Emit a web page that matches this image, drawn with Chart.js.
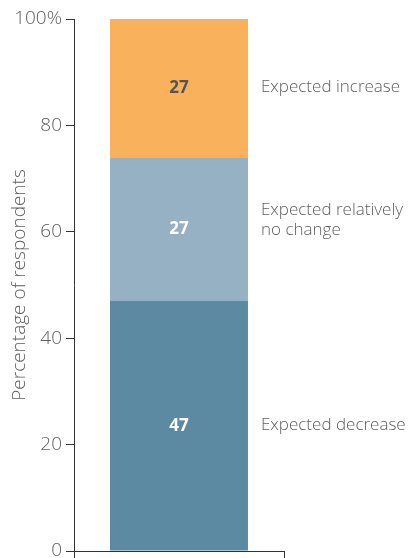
<!DOCTYPE html>
<html>
<head>
<meta charset="utf-8">
<script src="https://cdn.jsdelivr.net/npm/chart.js@4.4.0/dist/chart.umd.min.js"></script>
<style>
    html, body { margin: 0; padding: 0; background: #fff; }
    #wrap { width: 411px; height: 558px; position: relative; }
</style>
</head>
<body>
<div id="wrap"><canvas id="chart"></canvas></div>
<script>
// Expectations survey - one stacked column
const categories = [''];
const seriesNames = ['Expected decrease', 'Expected relatively no change', 'Expected increase'];
const sideLabels = [['Expected decrease'], ['Expected relatively', 'no change'], ['Expected increase']];
const decrease = [47];
const noChange = [27];
const increase = [27];
const yTicks = [0, 20, 40, 60, 80, 100];

const colors = ['#5d8aa3', '#97b1c4', '#f9b15c'];
const valueColors = ['#ffffff', '#ffffff', '#555555'];
const textGrey = '#5e5e5e';
const axisColor = '#333333';
const fontFamily = '"Open Sans", "Noto Sans", sans-serif';

// value inside each segment + series name to the right of the column
const segmentLabels = {
    id: 'segmentLabels',
    afterDatasetsDraw(chart) {
        const ctx = chart.ctx;
        const area = chart.chartArea;
        ctx.save();
        chart.data.datasets.forEach((ds, i) => {
            const meta = chart.getDatasetMeta(i);
            meta.data.forEach((bar, j) => {
                const top = Math.max(Math.min(bar.y, bar.base), area.top);
                const bottom = Math.min(Math.max(bar.y, bar.base), area.bottom);
                const cy = (top + bottom) / 2;

                ctx.font = 'bold 17px ' + fontFamily;
                ctx.fillStyle = valueColors[i];
                ctx.textAlign = 'center';
                ctx.textBaseline = 'middle';
                ctx.fillText(ds.data[j], bar.x, cy);

                ctx.font = '300 17px ' + fontFamily;
                ctx.fillStyle = textGrey;
                ctx.textAlign = 'left';
                const lines = sideLabels[i];
                const x = bar.x + bar.width / 2 + 13;
                const startY = lines.length > 1 ? cy - 19 : cy - 1;
                lines.forEach((t, k) => ctx.fillText(t, x, startY + k * 20));
            });
        });
        ctx.restore();
    }
};

new Chart(document.getElementById('chart'), {
    type: 'bar',
    data: {
        labels: categories,
        datasets: [
            { label: seriesNames[0], data: decrease, backgroundColor: colors[0] },
            { label: seriesNames[1], data: noChange, backgroundColor: colors[1] },
            { label: seriesNames[2], data: increase, backgroundColor: colors[2] }
        ]
    },
    options: {
        responsive: true,
        maintainAspectRatio: false,
        animation: false,
        layout: { padding: { left: 0, right: 127, top: 19, bottom: 0 } },
        datasets: {
            bar: { categoryPercentage: 0.657, barPercentage: 1, clip: 0, borderWidth: 0 }
        },
        plugins: {
            legend: { display: false },
            tooltip: { enabled: false }
        },
        scales: {
            x: {
                stacked: true,
                offset: true,
                grid: { offset: true, drawOnChartArea: false, tickLength: 7, color: axisColor },
                border: { color: axisColor },
                ticks: { display: false }
            },
            y: {
                stacked: true,
                min: 0,
                max: 100,
                afterBuildTicks: s => { s.ticks = yTicks.map(v => ({ value: v })); },
                afterFit: s => {
                    s.width = 74;
                    // let the "0" label run off the bottom edge
                    s.paddingTop = 0;
                    s.paddingBottom = 0;
                },
                ticks: {
                    callback: v => v === 100 ? '100%' : v,
                    color: textGrey,
                    padding: 4,
                    font: { family: fontFamily, size: 19, weight: 300 }
                },
                grid: { drawOnChartArea: false, tickLength: 8, color: axisColor },
                border: { color: axisColor },
                title: {
                    display: true,
                    text: 'Percentage of respondents',
                    color: textGrey,
                    padding: { top: 8, bottom: 0 },
                    font: { family: fontFamily, size: 19, weight: 300 }
                }
            }
        }
    },
    plugins: [segmentLabels]
});
</script>
</body>
</html>
